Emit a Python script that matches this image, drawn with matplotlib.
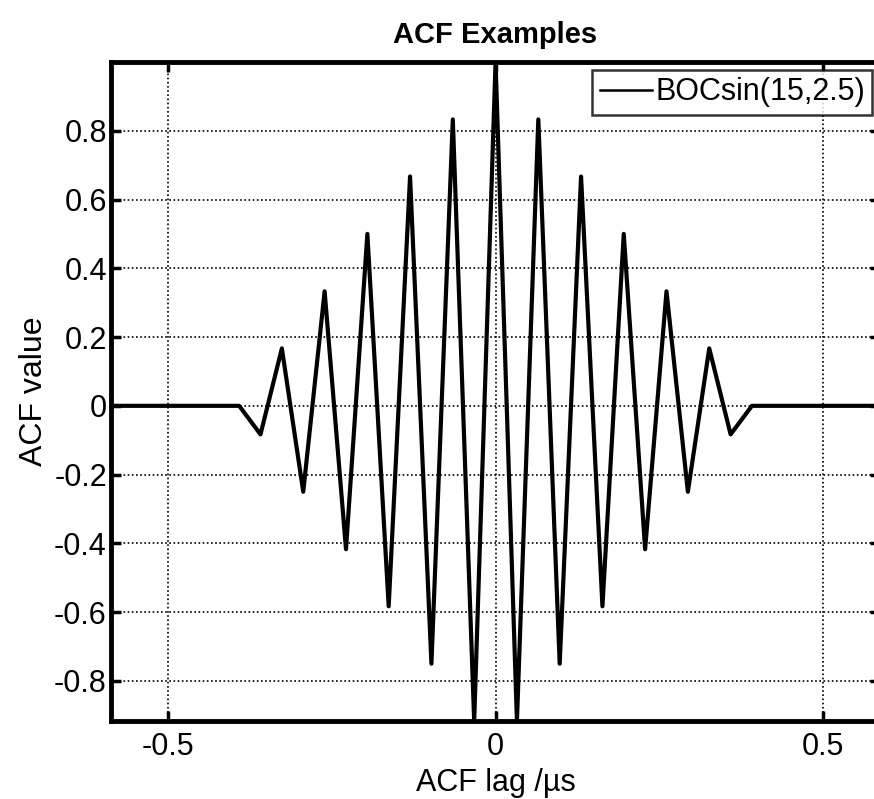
import matplotlib
matplotlib.use("Agg")
import matplotlib.pyplot as plt
import numpy as np

# ACF of BOCsin(15,2.5), lag in microseconds
lag = [
    -0.5865, -0.3910, -0.3585, -0.3259, -0.2933, -0.2607, -0.2281, -0.1955,
    -0.1630, -0.1304, -0.0978, -0.0652, -0.0326, 0.0,
    0.0326, 0.0652, 0.0978, 0.1304, 0.1630, 0.1955, 0.2281, 0.2607,
    0.2933, 0.3259, 0.3585, 0.3910, 0.5865,
]
acf = [
    0.0, 0.0, -0.083, 0.167, -0.25, 0.333, -0.417, 0.5,
    -0.583, 0.667, -0.75, 0.833, -0.917, 1.0,
    -0.917, 0.833, -0.75, 0.667, -0.583, 0.5, -0.417, 0.333,
    -0.25, 0.167, -0.083, 0.0, 0.0,
]
xticks = [-0.5, 0, 0.5]
xticklabels = ["-0.5", "0", "0.5"]
yticks = [-0.8, -0.6, -0.4, -0.2, 0, 0.2, 0.4, 0.6, 0.8]
yticklabels = ["-0.8", "-0.6", "-0.4", "-0.2", "0", "0.2", "0.4", "0.6", "0.8"]

plt.rcParams["font.family"] = ["Liberation Sans", "DejaVu Sans"]

fig = plt.figure(figsize=(8.74, 7.99), dpi=100)
ax = fig.add_axes([0.127, 0.0976, 0.88, 0.8248])

ax.plot(lag, acf, "k-", lw=3.0, label="BOCsin(15,2.5)")

ax.set_xlim(-0.5865, 0.5865)
ax.set_ylim(-0.9167, 1.0)
ax.set_xticks(xticks)
ax.set_xticklabels(xticklabels)
ax.set_yticks(yticks)
ax.set_yticklabels(yticklabels)
ax.grid(True, color="k", linestyle=(0, (1, 1.5)), linewidth=1.2)
ax.tick_params(direction="in", length=7, width=2.5, labelsize=22, top=True, right=True)
ax.tick_params(axis="x", pad=8)
ax.tick_params(axis="y", pad=3)
for s in ax.spines.values():
    s.set_linewidth(3.5)

ax.set_title("ACF Examples", fontsize=21, fontweight="bold", pad=14)
ax.set_xlabel("ACF lag /\u00b5s", fontsize=22, labelpad=4)
ax.set_ylabel("ACF value", fontsize=23, labelpad=4)

leg = ax.legend(loc="upper right", fontsize=22, frameon=True, fancybox=False,
                borderaxespad=0.25, handlelength=1.7, handletextpad=0.1,
                borderpad=0.25)
leg.get_frame().set_edgecolor("k")
leg.get_frame().set_linewidth(1.8)
for h in leg.get_lines():
    h.set_linewidth(1.8)

fig.savefig("out.png", dpi=100)
